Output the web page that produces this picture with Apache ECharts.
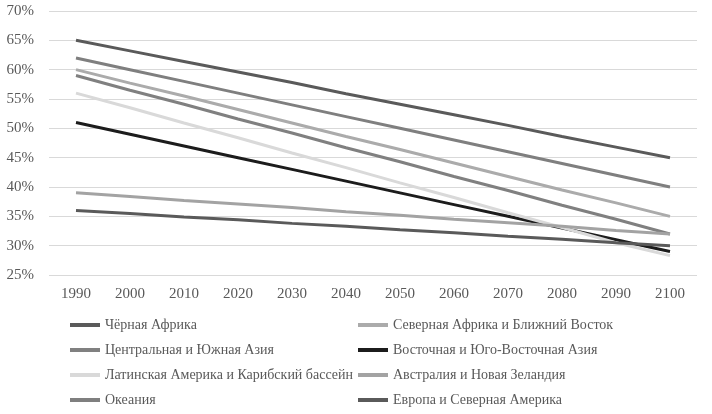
<!DOCTYPE html>
<html>
<head>
<meta charset="utf-8">
<script src="https://cdn.jsdelivr.net/npm/echarts@6/dist/echarts.min.js"></script>
<style>html,body{margin:0;padding:0;background:#fff}#c{width:712px;height:414px}</style>
</head>
<body>
<div id="c"></div>
<script>
const years = ['1990','2000','2010','2020','2030','2040','2050','2060','2070','2080','2090','2100'];
const blackAfrica = [65, 63.2, 61.4, 59.6, 57.8, 55.9, 54.1, 52.3, 50.5, 48.6, 46.8, 45];
const northAfrica = [60, 57.7, 55.5, 53.2, 50.9, 48.6, 46.4, 44.1, 41.8, 39.5, 37.3, 35];
const centralAsia = [59, 56.5, 54.1, 51.6, 49.2, 46.7, 44.3, 41.8, 39.4, 36.9, 34.5, 32];
const eastAsia = [51, 49, 47, 45, 43, 41, 39, 37, 35, 33, 31, 29];
const latinAmerica = [56, 53.5, 50.9, 48.4, 45.8, 43.3, 40.7, 38.2, 35.6, 33.1, 30.5, 28.3];
const australia = [39, 38.4, 37.7, 37.1, 36.5, 35.8, 35.2, 34.5, 33.9, 33.3, 32.6, 32];
const oceania = [62, 60, 58, 56, 54, 52, 50, 48, 46, 44, 42, 40];
const europe = [36, 35.5, 34.9, 34.4, 33.8, 33.3, 32.7, 32.2, 31.6, 31.1, 30.5, 30];
const yTicks = {min: 25, max: 70, interval: 5};

const names = ['Чёрная Африка','Северная Африка и Ближний Восток','Центральная и Южная Азия','Восточная и Юго-Восточная Азия','Латинская Америка и Карибский бассейн','Австралия и Новая Зеландия','Океания','Европа и Северная Америка'];
const datas = [blackAfrica, northAfrica, centralAsia, eastAsia, latinAmerica, australia, oceania, europe];
const colors = ['#5a5a5a','#ababab','#808080','#1c1c1c','#d9d9d9','#a3a3a3','#7f7f7f','#5a5a5a'];
const font = '"Liberation Serif", "DejaVu Serif", serif';
const txt = '#595959';

const chart = echarts.init(document.getElementById('c'), null, {renderer:'canvas'});
const legendBase = {
  orient:'vertical', top: 318, padding:0, itemWidth: 30, itemHeight: 4, itemGap: 11, icon:'rect',
  textStyle:{fontFamily:font, fontSize:14, color:txt}
};
chart.setOption({
  animation:false,
  color: colors,
  grid:{left:49, right:15, top:11, bottom:139, containLabel:false},
  legend:[
    Object.assign({}, legendBase, {left:70, data:[names[0],names[2],names[4],names[6]]}),
    Object.assign({}, legendBase, {left:358, data:[names[1],names[3],names[5],names[7]]})
  ],
  xAxis:{type:'category', data:years, boundaryGap:true,
    axisLine:{show:false}, axisTick:{show:false},
    axisLabel:{fontFamily:font, fontSize:15, color:txt, margin:12}},
  yAxis:{type:'value', min:yTicks.min, max:yTicks.max, interval:yTicks.interval,
    axisLine:{show:false}, axisTick:{show:false},
    axisLabel:{formatter:'{value}%', fontFamily:font, fontSize:15, color:txt, margin:15},
    splitLine:{lineStyle:{color:'#d9d9d9', width:1}}},
  series: names.map((n,i)=>({name:n, type:'line', data:datas[i], symbol:'none',
    lineStyle:{width:3, color:colors[i]}, itemStyle:{color:colors[i]}, z: 2}))
});
</script>
</body>
</html>
